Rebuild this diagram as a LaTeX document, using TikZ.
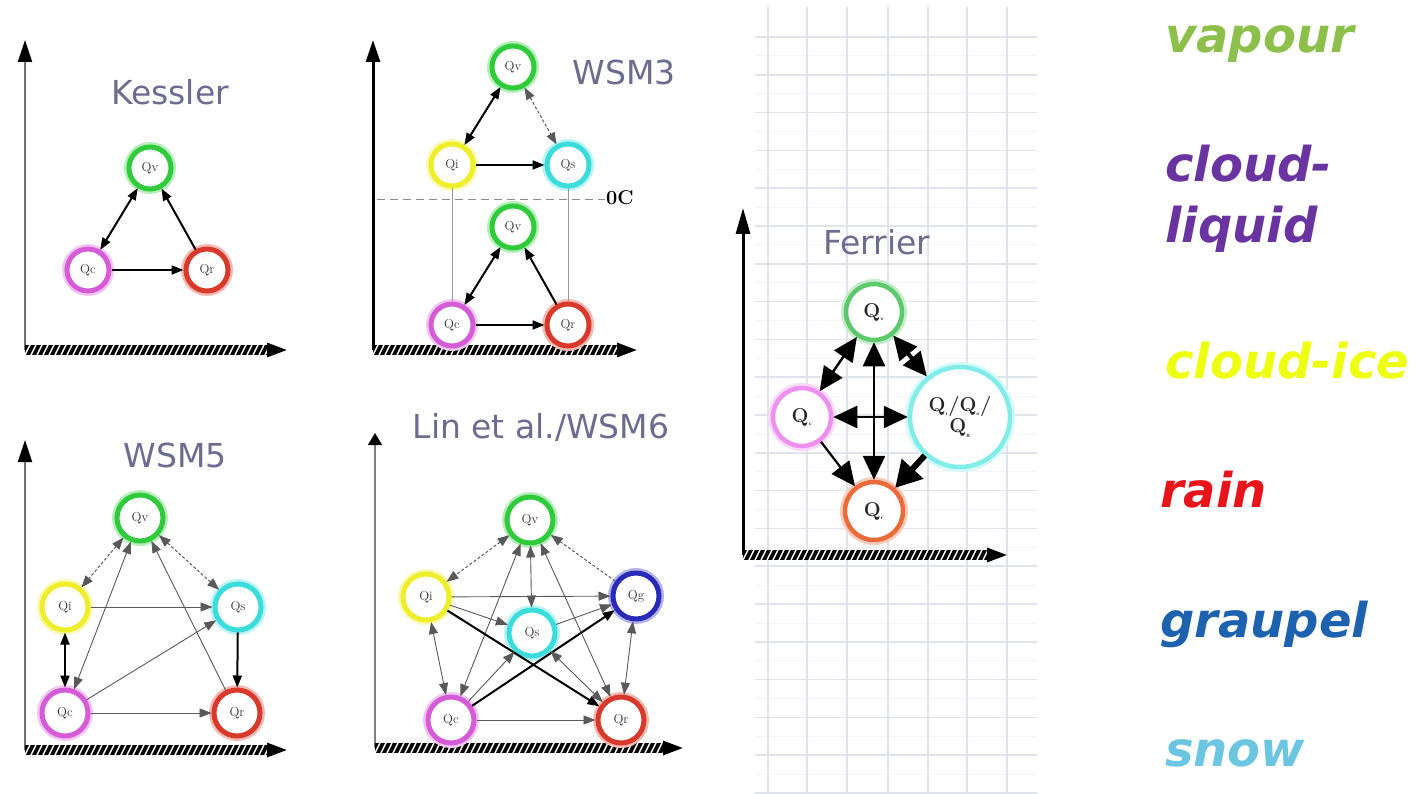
\documentclass[tikz,border=0pt]{standalone}
\usepackage{fontspec}
\setsansfont{DejaVu Sans}
\newfontfamily\legfont{DejaVu Sans}
\usetikzlibrary{arrows.meta}
\definecolor{cv}{HTML}{2FCB3A}
\definecolor{cc}{HTML}{D65BD6}
\definecolor{cr}{HTML}{D8392B}
\definecolor{ci}{HTML}{EEEE2A}
\definecolor{cs}{HTML}{3ADCDC}
\definecolor{cg}{HTML}{2A2AB8}
\definecolor{fv}{HTML}{5DC96A}
\definecolor{fc}{HTML}{EE90EE}
\definecolor{fs}{HTML}{80EDEA}
\definecolor{fr}{HTML}{EA6A3A}
\definecolor{titlec}{HTML}{6C6C90}
\definecolor{gridc}{HTML}{E0E3EC}
\definecolor{lv}{HTML}{8CC04A}
\definecolor{lc}{HTML}{6A34A0}
\definecolor{li}{HTML}{EEFF10}
\definecolor{lr}{HTML}{E8141C}
\definecolor{lg}{HTML}{1C62AE}
\definecolor{ls}{HTML}{6CC6E2}
\tikzset{
  q/.style={circle, draw=#1, line width=5, fill=white, minimum size=42, inner sep=0,
    font=\fontsize{13}{13}\selectfont, text=black!80,
    preaction={draw=#1!35, line width=10}},
  fq/.style={circle, draw=#1, line width=4.5, fill=white, inner sep=0,
    font=\bfseries\fontsize{20}{20}\selectfont, text=black!85,
    preaction={draw=#1!35, line width=10}},
  ttl/.style={font=\sffamily\fontsize{33}{33}\selectfont, text=titlec, inner sep=0},
  leg/.style={font=\legfont\bfseries\itshape\fontsize{48}{48}\selectfont, anchor=base west, inner sep=0},
  bold/.style={line width=2, draw=black},
  fine/.style={line width=0.9, draw=black!65},
  dash5/.style={line width=1, draw=black!65, dash pattern=on 3 off 2},
  guide/.style={line width=0.8, draw=black!40},
  zeroline/.style={line width=1, draw=black!45, dash pattern=on 8 off 5},
  ferd/.style={line width=2.5, draw=black, {Triangle[length=24,width=22]}-{Triangle[length=24,width=22]}},
  fers/.style={line width=2.2, draw=black, -{Triangle[length=24,width=22]}},
  ferb/.style={line width=6, draw=black, -{Triangle[length=26,width=28]}},
}
\newcommand{\panelaxes}[6]{%
  \draw[#5, -{Triangle[length=#6,width=14,color=black]}] (#1,#3) -- (#1,#2);
  \fill[black] (#1,#3-5) rectangle (#4-16,#3+5);
  \begin{scope}
    \clip (#1,#3-5) rectangle (#4-16,#3+5);
    \foreach \k in {0,...,55} \draw[white,line width=1.4] ({#1+6*\k},#3+5) -- ({#1+6*\k+5},#3-5);
  \end{scope}
  \draw[line width=3,-{Triangle[length=20,width=14]}] (#4-18,#3) -- (#4,#3);
}
\begin{document}
\begin{tikzpicture}[x=1pt,y=-1pt, >={Triangle[length=12,width=9]}]
\useasboundingbox[fill=white] (0,0) rectangle (1422,794);
% grid background
\foreach \k in {0,...,20} \draw[gridc!40, line width=1] (755,{56+37.8*\k}) -- (1037,{56+37.8*\k});
\foreach \gx in {768,807,847,888,928,967,1007} \draw[gridc, line width=1.6] (\gx,7) -- (\gx,794);
\foreach \k in {0,...,20} \draw[gridc, line width=1.6] (755,{37+37.8*\k}) -- (1037,{37+37.8*\k});

% ---------------- Kessler
\panelaxes{25}{40}{350}{287}{draw=black!55, line width=2}{22}
\node[ttl] (kt) at (170,92) {Kessler};
\node[q=cv] (kv) at (150,168) {Qv};
\node[q=cc] (kc) at (88,270) {Qc};
\node[q=cr] (kr) at (207,270) {Qr};
\draw[bold,<->] (kc) -- (kv);
\draw[bold,->] (kr) -- (kv);
\draw[bold,->] (kc) -- (kr);

% ---------------- WSM3
\panelaxes{373}{40}{350}{637}{draw=black, line width=3}{22}
\node[ttl] (w3t) at (624,72) {WSM3};
\draw[zeroline] (377,200) -- (605,200);
\node[font=\bfseries\fontsize{20}{20}\selectfont, anchor=west, inner sep=0] (w3z) at (606,198) {0C};
\node[q=cv] (w3v) at (513,67) {Qv};
\node[q=ci] (w3i) at (452,165) {Qi};
\node[q=cs] (w3s) at (568,165) {Qs};
\node[q=cv] (w3v2) at (513,227) {Qv};
\node[q=cc] (w3c) at (452,325) {Qc};
\node[q=cr] (w3r) at (568,325) {Qr};
\draw[guide] (w3i) -- (w3c);
\draw[guide] (w3s) -- (w3r);
\draw[bold,<->] (w3v) -- (w3i);
\draw[dash5,<->] (w3v) -- (w3s);
\draw[bold,->] (w3i) -- (w3s);
\draw[bold,<->] (w3v2) -- (w3c);
\draw[bold,->] (w3r) -- (w3v2);
\draw[bold,->] (w3c) -- (w3r);

% ---------------- WSM5
\panelaxes{25}{440}{750}{287}{draw=black!55, line width=2}{22}
\node[ttl] (w5t) at (175,455) {WSM5};
\node[q=cv, minimum size=46] (w5v) at (140,518) {Qv};
\node[q=ci, minimum size=46] (w5i) at (65,607) {Qi};
\node[q=cs, minimum size=46] (w5s) at (238,607) {Qs};
\node[q=cc, minimum size=46] (w5c) at (65,713) {Qc};
\node[q=cr, minimum size=46] (w5r) at (237,713) {Qr};
\draw[dash5,<->] (w5v) -- (w5i);
\draw[dash5,<->] (w5v) -- (w5s);
\draw[fine,->] (w5i) -- (w5s);
\draw[fine,->] (w5c) -- (w5s);
\draw[bold,<->] (w5i) -- (w5c);
\draw[fine,<->] (w5v) -- (w5c);
\draw[fine,->] (w5r) -- (w5v);
\draw[bold,->] (w5s) -- (w5r);
\draw[fine,->] (w5c) -- (w5r);

% ---------------- Lin et al./WSM6
\panelaxes{375}{433}{748}{683}{draw=black!50, line width=1.5}{12}
\node[ttl] (w6t) at (541,427) {Lin et al./WSM6};
\node[q=cv, minimum size=46] (w6v) at (530,520) {Qv};
\node[q=ci, minimum size=46] (w6i) at (426,597) {Qi};
\node[q=cg, minimum size=46] (w6g) at (636,596) {Qg};
\node[q=cs, minimum size=46] (w6s) at (532,633) {Qs};
\node[q=cc, minimum size=46] (w6c) at (451,720) {Qc};
\node[q=cr, minimum size=46] (w6r) at (621,720) {Qr};
\draw[dash5,<->] (w6v) -- (w6i);
\draw[dash5,->] (w6g) -- (w6v);
\draw[fine,<->] (w6v) -- (w6s);
\draw[fine,<->] (w6v) -- (w6c);
\draw[fine,<->] (w6v) -- (w6r);
\draw[fine,->] (w6i) -- (w6g);
\draw[fine,->] (w6i) -- (w6s);
\draw[fine,<->] (w6i) -- (w6c);
\draw[bold,->] (w6i) -- (w6r);
\draw[bold,->] (w6c) -- (w6g);
\draw[fine,->] (w6s) -- (w6g);
\draw[fine,->] (w6c) -- (w6s);
\draw[fine,<->] (w6s) -- (w6r);
\draw[fine,<->] (w6g) -- (w6r);
\draw[fine,->] (w6c) -- (w6r);

% ---------------- Ferrier
\panelaxes{743}{208}{555}{1007}{draw=black, line width=3}{26}
\node[ttl] (ft) at (877,242) {Ferrier};
\node[fq=fv, minimum size=56] (fqv) at (874,312) {Q\textsubscript{\tiny v}};
\node[fq=fc, minimum size=58] (fqc) at (802,417) {Q\textsubscript{\tiny c}};
\node[fq=fs, minimum size=100, align=center, font=\bfseries\fontsize{20}{21}\selectfont] (fqb) at (960,417) {Q\textsubscript{\tiny i}/Q\textsubscript{\tiny s}/\\Q\textsubscript{\tiny g}};
\node[fq=fr, minimum size=58] (fqr) at (874,511) {Q\textsubscript{\tiny r}};
\draw[ferd] (fqv) -- (fqc);
\draw[ferd] (fqv) -- (fqr);
\draw[ferd] (fqc) -- (fqb);
\draw[ferd, line width=4] (fqv) -- (fqb);
\draw[ferb] (fqb) -- (fqr);
\draw[fers] (fqc) -- (fqr);

% ---------------- legend
\node[leg, text=lv] (lvap) at (1165,53) {vapour};
\node[leg, text=lc] (lcl1) at (1165,182) {cloud-};
\node[leg, text=lc] (lcl2) at (1165,243) {liquid};
\node[leg, text=li] (lci) at (1165,378) {cloud-ice};
\node[leg, text=lr] (lra) at (1160,507) {rain};
\node[leg, text=lg] (lgr) at (1160,637) {graupel};
\node[leg, text=ls] (lsn) at (1165,766) {snow};
\end{tikzpicture}
\end{document}
